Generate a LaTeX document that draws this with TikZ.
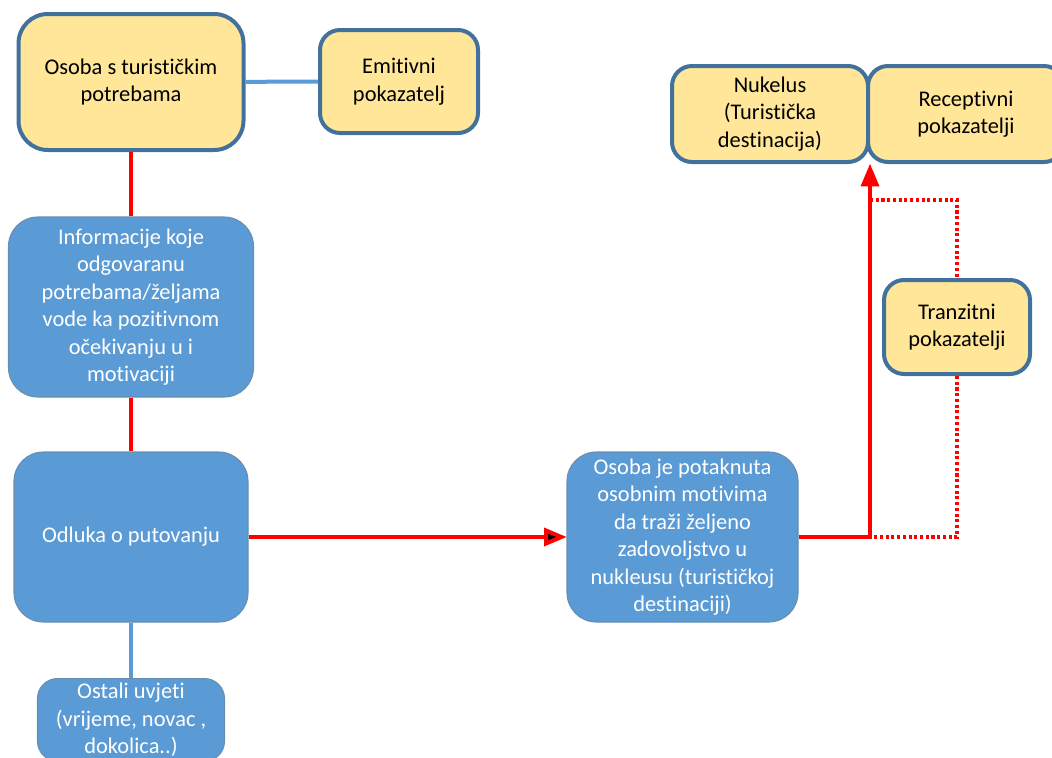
\documentclass[tikz,border=0pt]{standalone}
\usepackage{fontspec}
\setmainfont{Carlito}[Ligatures={NoCommon,NoDiscretionary}]
\usetikzlibrary{arrows}
\definecolor{boxyellow}{HTML}{FFE699}
\definecolor{boxblue}{HTML}{5B9BD5}
\definecolor{boxline}{HTML}{41719C}
\definecolor{linkred}{HTML}{FF0000}
\begin{document}
\begin{tikzpicture}[>=triangle 45,x=0.75pt,y=-0.75pt]
			\useasboundingbox (0,0) rectangle (1052,757);
			\tikzstyle{every node} = [rectangle,align=center,font=\fontsize{16.8}{20.6}\selectfont,inner sep=0pt];
			\tikzstyle{yellow box} = [fill=boxyellow,draw=boxline,line width=3pt,rounded corners=15pt,text=black];
			\tikzstyle{blue box} = [fill=boxblue,draw=boxline!80,line width=0.8pt,rounded corners=22pt,text=white];
			\tikzstyle{red link} = [draw=linkred,line width=3pt];
			\tikzstyle{blue link} = [draw=boxblue,line width=3pt];
			\tikzstyle{dot link} = [draw=linkred,line width=2.3pt,dash pattern=on 2.3pt off 2pt];
			\node[yellow box,rounded corners=22pt,minimum width=168.75pt,minimum height=102pt] (1) at (131, 82) {Osoba s turističkim\\potrebama};
			\node[yellow box,minimum width=118.5pt,minimum height=77.25pt] (2) at (399, 81.5) {Emitivni\\pokazatelj};
			\node[blue box,minimum width=183.75pt,minimum height=135pt] (3) at (131, 307) {Informacije koje\\odgovaranu\\potrebama/željama\\vode ka pozitivnom\\očekivanju u i\\motivaciji};
			\node[blue box,minimum width=175.5pt,minimum height=127.5pt] (4) at (131, 537) {Odluka o putovanju};
			\node[blue box,minimum width=173.25pt,minimum height=127.5pt] (5) at (682.5, 537) {Osoba je potaknuta\\osobnim motivima\\da traži željeno\\zadovoljstvo u\\nukleusu (turističkoj\\destinaciji)};
			\node[blue box,rounded corners=15pt,minimum width=140.25pt,minimum height=62pt,anchor=north] (6) at (131, 678) {Ostali uvjeti\\(vrijeme, novac ,\\dokolica..)};
			\node[yellow box,minimum width=147pt,minimum height=72pt] (7) at (770, 114) {Nukelus\\(Turistička\\destinacija)};
			\node[yellow box,minimum width=147pt,minimum height=72pt] (8) at (966, 114) {Receptivni\\pokazatelji};
			\node[yellow box,minimum width=109.5pt,minimum height=70.5pt] (9) at (957, 327) {Tranzitni\\pokazatelji};
			\coordinate (10) at (870, 200);
			\coordinate (11) at (870, 537);
			\draw[blue link] (1) edge (2);
			\draw[red link] (1) edge (3);
			\draw[red link] (3) edge (4);
			\draw[blue link] (4) edge (6);
			\draw[->,red link] (4) edge (5);
			\draw[->,red link] (5.east) -| (7.south east);
			\draw[dot link] (10) -| (9.north);
			\draw[dot link] (9.south) |- (11);
		\end{tikzpicture}
\end{document}
